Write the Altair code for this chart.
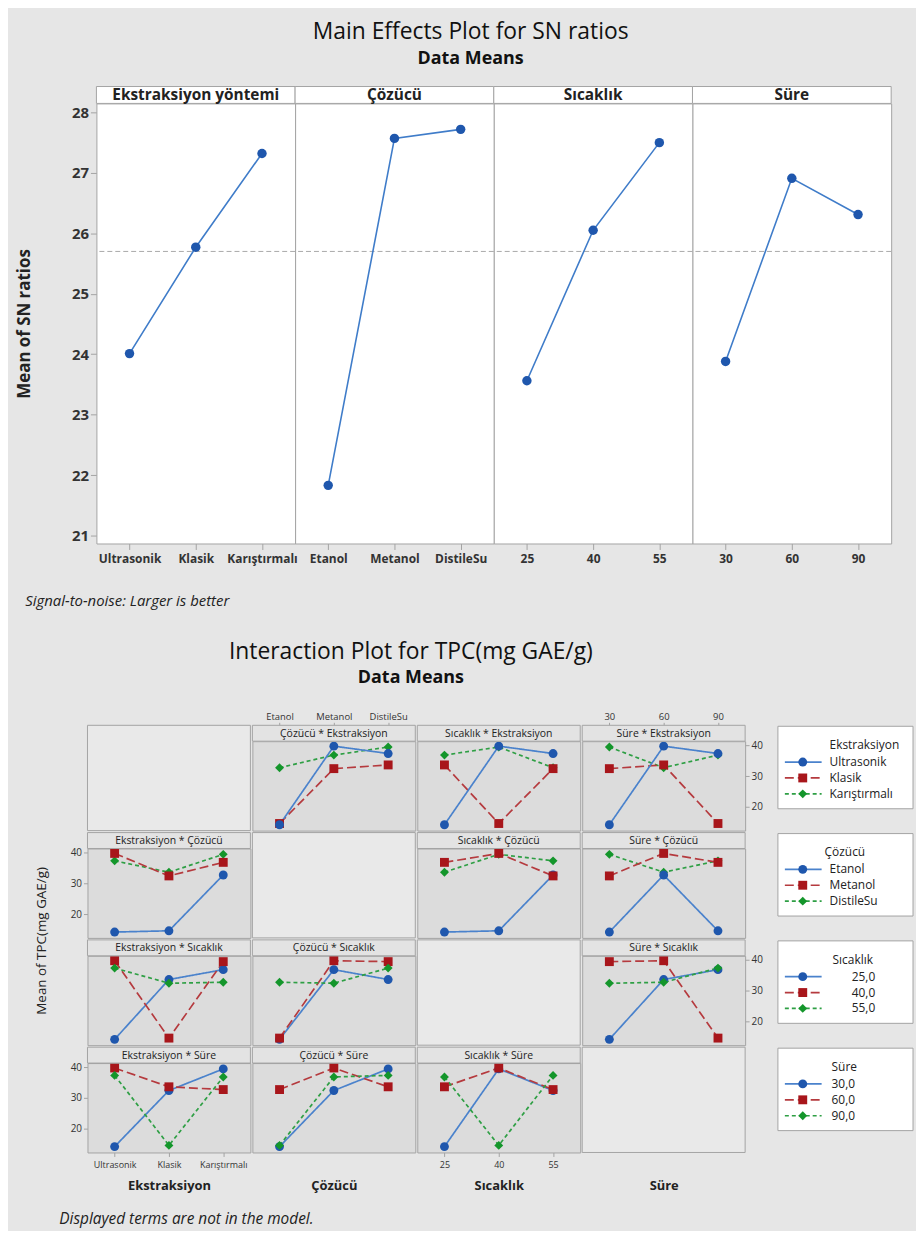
import altair as alt
import pandas as pd

# ------------------------------------------------------------------ data
me_panels = ["Ekstraksiyon yöntemi", "Çözücü", "Sıcaklık", "Süre"]
ekstraksiyon_levels = ["Ultrasonik", "Klasik", "Karıştırmalı"]
cozucu_levels = ["Etanol", "Metanol", "DistileSu"]
sicaklik_levels = ["25", "40", "55"]
sure_levels = ["30", "60", "90"]

sn_ekstraksiyon = [24.01, 25.77, 27.32]
sn_cozucu = [21.83, 27.57, 27.72]
sn_sicaklik = [23.56, 26.05, 27.50]
sn_sure = [23.88, 26.91, 26.31]
sn_grand_mean = [25.70]
sn_ticks = [21, 22, 23, 24, 25, 26, 27, 28]

ia_factors = ["Ekstraksiyon", "Çözücü", "Sıcaklık", "Süre"]
sicaklik_legend = ["25,0", "40,0", "55,0"]
sure_legend = ["30,0", "60,0", "90,0"]

# L9 runs (each pair of factor levels occurs once)
run_ekstraksiyon = ["Ultrasonik", "Ultrasonik", "Ultrasonik", "Klasik", "Klasik", "Klasik",
                    "Karıştırmalı", "Karıştırmalı", "Karıştırmalı"]
run_cozucu = ["Etanol", "Metanol", "DistileSu", "Etanol", "Metanol", "DistileSu",
              "Etanol", "Metanol", "DistileSu"]
run_sicaklik = ["25", "40", "55", "40", "55", "25", "55", "25", "40"]
run_sure = ["30", "60", "90", "90", "30", "60", "60", "90", "30"]
run_tpc = [14.2, 39.7, 37.3, 14.6, 32.4, 33.6, 32.7, 36.8, 39.4]
tpc_ticks = [20, 30, 40]

# ------------------------------------------------------------------ style
BG = "#e6e6e6"
FONT = "Open Sans"
BORDER = "#a3a3a3"
TXT = "#222222"
ser_marker = ["#1f57ad", "#a8161b", "#14962b"]
ser_line = ["#4a82cc", "#b53a3e", "#2e9f44"]
ser_dash = [[1, 0], [9, 4], [4, 3]]
ser_shape = ["circle", "square", "diamond"]

me_levels = [ekstraksiyon_levels, cozucu_levels, sicaklik_levels, sure_levels]
me_values = [sn_ekstraksiyon, sn_cozucu, sn_sicaklik, sn_sure]
factor_levels = me_levels
legend_labels = [ekstraksiyon_levels, cozucu_levels, sicaklik_legend, sure_legend]

IND = dict(x="independent", y="independent", color="independent",
           shape="independent", strokeDash="independent")

# ------------------------------------------------------------------ main effects
MW, MH, MS = 200, 443, 17
GAP = 9
me_y = alt.Scale(domain=[20.868, 28.149], nice=False, zero=False)


def me_axis_holder():
    yaxis = alt.Axis(title="Mean of SN ratios", values=sn_ticks, labelFontSize=15,
                     labelFontWeight="bold", labelColor="#333333", tickSize=6,
                     tickColor=BORDER, domain=False, grid=False, labelPadding=2,
                     titleFontSize=17, titleFontWeight="bold", titleColor=TXT,
                     titlePadding=38, titleFont=FONT, labelFont=FONT, offset=-GAP)
    df = pd.DataFrame({"sn": sn_grand_mean})
    return alt.Chart(df).mark_point(opacity=0).encode(
        y=alt.Y("sn:Q", scale=me_y, axis=yaxis), x=alt.value(0)).properties(
        width=GAP, height=MH, view=alt.ViewBackground(fill="transparent", stroke="transparent"))


def me_panel(k):
    lv = me_levels[k]
    df = pd.DataFrame({"level": lv, "sn": me_values[k], "xi": list(range(3))})
    x = alt.X("level:N", sort=lv, scale=alt.Scale(type="point", domain=lv, padding=0.5),
              axis=alt.Axis(title=None, labelAngle=0, labelFontSize=12, labelFontWeight="bold",
                            labelColor="#333333", tickSize=6, tickColor=BORDER, domain=False,
                            labelPadding=4, labelFont=FONT))
    one = pd.DataFrame({"t": [me_panels[k]]})
    head = alt.Chart(one).mark_rect(fill="white", stroke=BORDER, strokeWidth=1).encode(
        x=alt.value(0), x2=alt.value(MW), y=alt.value(-MS), y2=alt.value(0))
    head_t = alt.Chart(one).mark_text(fontSize=15.5, fontWeight="bold", font=FONT, color=TXT,
                                      baseline="middle").encode(
        x=alt.value(MW / 2), y=alt.value(-MS / 2 + 0.5), text="t:N")
    mean = alt.Chart(pd.DataFrame({"sn": sn_grand_mean})).mark_rule(
        color="#a8a8a8", strokeDash=[5, 3], strokeWidth=1).encode(
        y=alt.Y("sn:Q", scale=me_y, axis=None))
    line = alt.Chart(df).mark_line(color="#3f7cc9", strokeWidth=1.6).encode(
        x=x, y=alt.Y("sn:Q", scale=me_y, axis=None), order="xi:Q")
    pts = alt.Chart(df).mark_circle(size=90, color="#1f57ad", opacity=1).encode(
        x=x, y=alt.Y("sn:Q", scale=me_y, axis=None))
    return alt.layer(mean, line, pts, head, head_t).properties(
        width=MW, height=MH, view=alt.ViewBackground(fill="white", stroke=BORDER))


me_h = alt.hconcat(me_axis_holder(), *[me_panel(k) for k in range(4)], spacing=0, bounds="flush",
                   title=alt.TitleParams("Main Effects Plot for SN ratios", subtitle="Data Means",
                                         fontSize=23, font=FONT, fontWeight="normal", color="#111111",
                                         subtitleFontSize=18, subtitleFont=FONT,
                                         subtitleFontWeight="bold", subtitleColor="#111111",
                                         subtitlePadding=6, anchor="middle", dx=17, offset=18)
                   ).resolve_scale(**IND)

top_fig = alt.vconcat(me_h, spacing=0,
                      title=alt.TitleParams("Signal-to-noise: Larger is better", orient="bottom",
                                            anchor="start", fontSize=15, font=FONT,
                                            fontStyle="italic", fontWeight="normal",
                                            color="#222222", dx=10, offset=29)
                      ).resolve_scale(**IND)

# ------------------------------------------------------------------ interaction plot
runs = pd.DataFrame({"f0": run_ekstraksiyon, "f1": run_cozucu, "f2": run_sicaklik,
                     "f3": run_sure, "tpc": run_tpc})
CW, CH, SH = 164, 90, 16
tpc_scale = alt.Scale(domain=[12.3, 41.3], nice=False, zero=False)


def ia_cell(i, j):
    lv_x = factor_levels[j]
    lv_s = factor_levels[i]
    if i == 0 and j in (1, 3):
        xaxis = alt.Axis(orient="top", offset=SH, title=None, labelFontSize=9.5, labelAngle=0,
                         tickSize=3, tickColor=BORDER, domain=False, labelPadding=1,
                         labelColor="#333333", labelFont=FONT)
    elif i == 3:
        show = 1 if j in (0, 2) else 0
        xaxis = alt.Axis(orient="bottom", title=ia_factors[j], titleFontSize=13,
                         titleFontWeight="bold", titleColor=TXT, titlePadding=10, titleFont=FONT,
                         labelFontSize=9, labelAngle=0, tickSize=4, tickColor=BORDER,
                         domain=False, labelPadding=4, labelColor="#333333", labelFont=FONT,
                         labelOpacity=show, tickOpacity=show)
    else:
        xaxis = None
    if j == 0 and i in (1, 3):
        yaxis = alt.Axis(orient="left", values=tpc_ticks, title=None, labelFontSize=10,
                         tickSize=4, tickColor=BORDER, domain=False, grid=False, labelPadding=2,
                         labelColor="#333333", labelFont=FONT)
    elif j == 3 and i in (0, 2):
        yaxis = alt.Axis(orient="right", values=tpc_ticks, title=None, labelFontSize=10,
                         tickSize=4, tickColor=BORDER, domain=False, grid=False, labelPadding=2,
                         labelColor="#333333", labelFont=FONT)
    else:
        yaxis = None
    xsc = alt.Scale(type="point", domain=lv_x, padding=0.5)
    layers = []
    if i == j:
        dfe = pd.DataFrame({"xv": lv_x})
        layers.append(alt.Chart(dfe.head(1)).mark_rect(fill="#e9e9e9", stroke=BORDER).encode(
            x=alt.value(0), x2=alt.value(CW), y=alt.value(-SH), y2=alt.value(CH)))
        layers.append(alt.Chart(dfe).mark_point(opacity=0).encode(
            x=alt.X("xv:N", sort=lv_x, scale=xsc, axis=xaxis), y=alt.value(CH / 2)))
        view = alt.ViewBackground(fill="transparent", stroke="transparent")
    else:
        g = runs.groupby([f"f{j}", f"f{i}"], as_index=False)["tpc"].mean()
        g = g.rename(columns={f"f{j}": "xv", f"f{i}": "sv"})
        g["sl"] = g["sv"]
        g["xi"] = g["xv"].map({v: n for n, v in enumerate(lv_x)})
        x = alt.X("xv:N", sort=lv_x, scale=xsc, axis=xaxis)
        y = alt.Y("tpc:Q", scale=tpc_scale, axis=yaxis)
        lines = alt.Chart(g).mark_line(strokeWidth=1.7).encode(
            x=x, y=y, order="xi:Q",
            color=alt.Color("sl:N", scale=alt.Scale(domain=lv_s, range=ser_line), legend=None),
            strokeDash=alt.StrokeDash("sl:N", scale=alt.Scale(domain=lv_s, range=ser_dash),
                                      legend=None))
        pts = alt.Chart(g).mark_point(filled=True, size=80, opacity=1).encode(
            x=x, y=y,
            color=alt.Color("sv:N", scale=alt.Scale(domain=lv_s, range=ser_marker), legend=None),
            shape=alt.Shape("sv:N", scale=alt.Scale(domain=lv_s, range=ser_shape), legend=None))
        one = pd.DataFrame({"t": [f"{ia_factors[j]} * {ia_factors[i]}"]})
        strip = alt.Chart(one).mark_rect(fill="#e3e3e3", stroke=BORDER).encode(
            x=alt.value(0), x2=alt.value(CW), y=alt.value(-SH), y2=alt.value(0))
        strip_t = alt.Chart(one).mark_text(fontSize=10.5, font=FONT, color=TXT,
                                           baseline="middle").encode(
            x=alt.value(CW / 2), y=alt.value(-SH / 2 + 0.5), text="t:N")
        layers += [lines, pts, strip, strip_t]
        view = alt.ViewBackground(fill="#dcdcdc", stroke=BORDER)
    return alt.layer(*layers).resolve_scale(color="independent").properties(
        width=CW, height=CH, view=view)


LW = 152
LX0, LX1 = 14, 150
title_x = [66, 61, 69, 68]
label_x = [66, 66, 112, 68]
label_align = ["left", "left", "right", "left"]


def legend_cell(i):
    labs = legend_labels[i]
    df = pd.DataFrame({"lab": labs})
    df["lab2"] = df["lab"]
    ysc = alt.Y("lab:N", sort=labs, axis=None,
                scale=alt.Scale(type="point", domain=labs, range=[21, 53], padding=0))
    box = alt.Chart(df.head(1)).mark_rect(fill="white", stroke=BORDER).encode(
        x=alt.value(LX0), x2=alt.value(LX1), y=alt.value(-15), y2=alt.value(68))
    tt = alt.Chart(pd.DataFrame({"t": [ia_factors[i]]})).mark_text(
        align="left", baseline="middle", fontSize=12, font=FONT, color=TXT).encode(
        x=alt.value(title_x[i]), y=alt.value(4), text="t:N")
    seg = alt.Chart(df).mark_rule(strokeWidth=1.7).encode(
        x=alt.value(LX0 + 7), x2=alt.value(LX0 + 44), y=ysc,
        color=alt.Color("lab2:N", scale=alt.Scale(domain=labs, range=ser_line), legend=None),
        strokeDash=alt.StrokeDash("lab2:N", scale=alt.Scale(domain=labs, range=ser_dash),
                                  legend=None))
    pts = alt.Chart(df).mark_point(filled=True, size=80, opacity=1).encode(
        x=alt.value(LX0 + 25), y=ysc,
        color=alt.Color("lab:N", scale=alt.Scale(domain=labs, range=ser_marker), legend=None),
        shape=alt.Shape("lab:N", scale=alt.Scale(domain=labs, range=ser_shape), legend=None))
    lt = alt.Chart(df).mark_text(align=label_align[i], baseline="middle", fontSize=12,
                                 font=FONT, color=TXT).encode(
        x=alt.value(label_x[i]), y=ysc, text="lab:N")
    return alt.layer(box, tt, seg, pts, lt).resolve_scale(color="independent").properties(
        width=LW, height=CH, view=alt.ViewBackground(fill="transparent", stroke="transparent"))


cells = []
for i in range(4):
    for j in range(4):
        cells.append(ia_cell(i, j))
    cells.append(legend_cell(i))

grid = alt.concat(*cells, columns=5, spacing=0, align="each",
                  title=alt.TitleParams("Mean of TPC(mg GAE/g)", orient="left", anchor="middle",
                                        fontSize=13.5, font=FONT, fontWeight="normal",
                                        color=TXT, offset=21, dx=11)
                  ).resolve_scale(**IND)

mid = alt.vconcat(grid, spacing=0,
                  title=alt.TitleParams("Interaction Plot for TPC(mg GAE/g)", subtitle="Data Means",
                                        fontSize=23, font=FONT, fontWeight="normal",
                                        color="#111111", subtitleFontSize=18, subtitleFont=FONT,
                                        subtitleFontWeight="bold", subtitleColor="#111111",
                                        subtitlePadding=5, anchor="middle", dx=-65, offset=24)
                  ).resolve_scale(**IND)

bottom_fig = alt.vconcat(mid, spacing=0,
                         title=alt.TitleParams("Displayed terms are not in the model.",
                                               orient="bottom", anchor="start", fontSize=15.5,
                                               font=FONT, fontStyle="italic",
                                               fontWeight="normal", color="#222222", dx=24,
                                               offset=19)
                         ).resolve_scale(**IND)

chart = alt.vconcat(top_fig, bottom_fig, spacing=32).resolve_scale(**IND).configure(
    background=BG, padding={"left": 7, "top": 9, "right": 0, "bottom": 0}, font=FONT
).configure_view(strokeWidth=1)

chart.save("out.html", embed_options={"renderer": "svg", "actions": False})
